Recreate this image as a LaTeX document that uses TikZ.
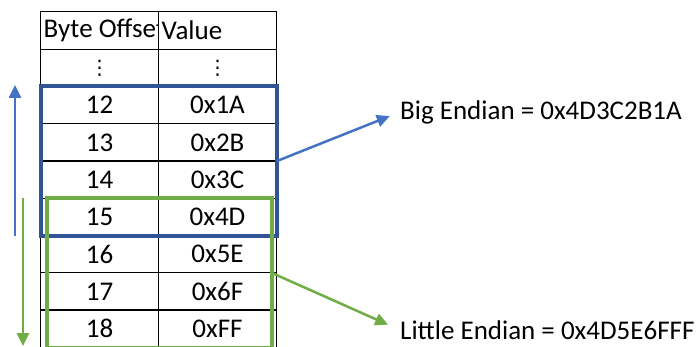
\documentclass[tikz,border=0pt]{standalone}
\usepackage{fontspec}
\setmainfont{Carlito}
\newfontfamily\dotsfont{DejaVu Sans}
\usepackage{tikz}
\usetikzlibrary{arrows.meta}
\usepackage{xcolor}
\definecolor{boxblue}{RGB}{47,85,151}
\definecolor{arrowblue}{RGB}{68,114,196}
\definecolor{boxgreen}{RGB}{112,173,71}

\begin{document}
\begin{tikzpicture}[
    x=1pt, y=-1pt,
    cell/.style={rectangle, draw=black, line width=1pt,
        minimum width=118pt, minimum height=37.25pt,
        inner sep=0pt, outer sep=0pt,
        font=\fontsize{27}{30}\selectfont},
    label/.style={anchor=west, inner sep=0pt,
        font=\fontsize{27}{30}\selectfont},
    bigframe/.style={rectangle, draw=boxblue, line width=4pt,
        inner sep=0pt, outer sep=0pt},
    littleframe/.style={rectangle, draw=boxgreen, line width=3.5pt,
        inner sep=0pt, outer sep=0pt},
    bluearrow/.style={-{Triangle[length=13pt,width=12pt]}, line width=2.5pt, arrowblue},
    greenarrow/.style={-{Triangle[length=13pt,width=12pt]}, line width=2.5pt, boxgreen}
]
    \useasboundingbox (0,0) rectangle (700,347);
    \clip (0,0) rectangle (700,347);

    % table
    \node[cell] (hoff) at (99.5,30.6) {};
    \node[cell] (hval) at (217.5,30.6) {};
    \begin{scope}
        \clip (hoff.north west) rectangle (hoff.south east);
        \node[label, inner sep=3pt] (hofftext) at (hoff.west) {Byte Offset};
    \end{scope}
    \node[label, inner sep=3pt] (hvaltext) at (hval.west) {Value};
    \node[cell, font=\dotsfont\fontsize{20}{24}\selectfont] (dotoff) at (99.5,67.9) {⋮};
    \node[cell, font=\dotsfont\fontsize{20}{24}\selectfont] (dotval) at (217.5,67.9) {⋮};
    \node[cell] (off12) at (99.5,105.1) {12};
    \node[cell] (val12) at (217.5,105.1) {0x1A};
    \node[cell] (off13) at (99.5,142.4) {13};
    \node[cell] (val13) at (217.5,142.4) {0x2B};
    \node[cell] (off14) at (99.5,179.6) {14};
    \node[cell] (val14) at (217.5,179.6) {0x3C};
    \node[cell] (off15) at (99.5,216.9) {15};
    \node[cell] (val15) at (217.5,216.9) {0x4D};
    \node[cell] (off16) at (99.5,254.1) {16};
    \node[cell] (val16) at (217.5,254.1) {0x5E};
    \node[cell] (off17) at (99.5,291.4) {17};
    \node[cell] (val17) at (217.5,291.4) {0x6F};
    \node[cell] (off18) at (99.5,328.6) {18};
    \node[cell] (val18) at (217.5,328.6) {0xFF};

    % frames round the bytes
    \node[bigframe, minimum width=236pt, minimum height=150pt] (bigbox) at (159,161) {};
    \node[littleframe, minimum width=225pt, minimum height=150pt] (littlebox) at (159.5,273) {};

    % results
    \node[label] (bigtext) at (400,112) {Big Endian = 0x4D3C2B1A};
    \node[label] (littletext) at (400,330) {Little Endian = 0x4D5E6FFF};

    \draw[bluearrow, shorten >=11pt] (bigbox.east) -- (bigtext.west);
    \draw[greenarrow, shorten >=13pt] (littlebox.east) -- (littletext.west);

    % reading direction
    \coordinate (bigstart) at (15,236);
    \coordinate (bigend) at (15,85);
    \coordinate (littlestart) at (23,198);
    \coordinate (littleend) at (23,346);
    \draw[bluearrow] (bigstart) -- (bigend);
    \draw[greenarrow] (littlestart) -- (littleend);
\end{tikzpicture}
\end{document}
